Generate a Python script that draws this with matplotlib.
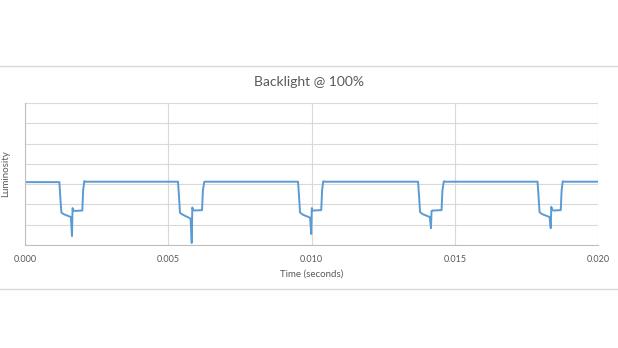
import matplotlib.pyplot as plt
from matplotlib.lines import Line2D
from matplotlib.ticker import FormatStrFormatter
import numpy as np

# waveform points (time in ms, luminosity in grid units)
time_ms = [
    0.00, 1.20, 1.23, 1.27, 1.35, 1.60, 1.64, 1.66, 1.69, 1.74, 2.00, 2.03, 2.07, 2.12,
    5.34, 5.37, 5.41, 5.50, 5.78, 5.82, 5.84, 5.87, 5.92, 6.18, 6.21, 6.26, 6.32,
    9.53, 9.56, 9.60, 9.69, 9.95, 9.99, 10.01, 10.04, 10.09, 10.34, 10.37, 10.41, 10.47,
    13.72, 13.75, 13.79, 13.88, 14.13, 14.17, 14.19, 14.22, 14.27, 14.54, 14.57, 14.62, 14.68,
    17.89, 17.92, 17.96, 18.05, 18.31, 18.35, 18.37, 18.40, 18.45, 18.70, 18.73, 18.77, 18.83,
    20.00,
]
luminosity = [
    3.10, 3.10, 2.40, 1.60, 1.52, 1.38, 0.44, 1.82, 1.70, 1.68, 1.70, 2.70, 3.15, 3.12,
    3.12, 2.50, 1.58, 1.50, 1.30, 0.10, 1.85, 1.72, 1.70, 1.72, 2.70, 3.12, 3.12,
    3.12, 2.50, 1.60, 1.50, 1.35, 0.54, 1.82, 1.70, 1.70, 1.72, 2.70, 3.14, 3.12,
    3.12, 2.50, 1.62, 1.52, 1.38, 0.83, 1.68, 1.70, 1.70, 1.72, 2.70, 3.14, 3.12,
    3.12, 2.50, 1.62, 1.52, 1.38, 0.83, 1.88, 1.72, 1.70, 1.72, 2.70, 3.14, 3.12,
    3.12,
]
x_ticks = [0.000, 0.005, 0.010, 0.015, 0.020]

txt = '#595959'
grid = '#d9d9d9'
blue = '#5b9bd5'

fig = plt.figure(figsize=(6.18, 3.48), dpi=100)
ax = fig.add_axes([25/618, 1-245/348, 573/618, 142/348])

t = np.array(time_ms) / 1000.0
ax.plot(t, luminosity, color=blue, lw=1.4, solid_joinstyle='round')

ax.set_xlim(0, 0.020)
ax.set_ylim(0, 7)
ax.set_xticks(x_ticks)
ax.set_yticks(range(8))
ax.set_yticklabels([])
ax.xaxis.set_major_formatter(FormatStrFormatter('%.3f'))
ax.grid(True, color=grid, lw=0.8)
ax.tick_params(length=0, labelsize=6.5, colors=txt, pad=7)
for s in ['top', 'right']:
    ax.spines[s].set_visible(False)
for s in ['left', 'bottom']:
    ax.spines[s].set_color('#bfbfbf')
    ax.spines[s].set_linewidth(0.8)
for lab in ax.get_xticklabels():
    lab.set_family('Lato')

ax.set_xlabel('Time (seconds)', fontsize=7, color=txt, family='Lato', labelpad=4)
ax.set_ylabel('Luminosity', fontsize=7, color=txt, family='Lato', labelpad=4)
fig.text(0.5, 1-82/348, 'Backlight @ 100%', ha='center', va='center',
         fontsize=10, color=txt, family='Lato')

fig.add_artist(Line2D([0, 1], [1-66/348, 1-66/348], color=grid, lw=1))
fig.add_artist(Line2D([0, 1], [1-289/348, 1-289/348], color=grid, lw=1))

fig.savefig('out.png', dpi=100, facecolor='white')
